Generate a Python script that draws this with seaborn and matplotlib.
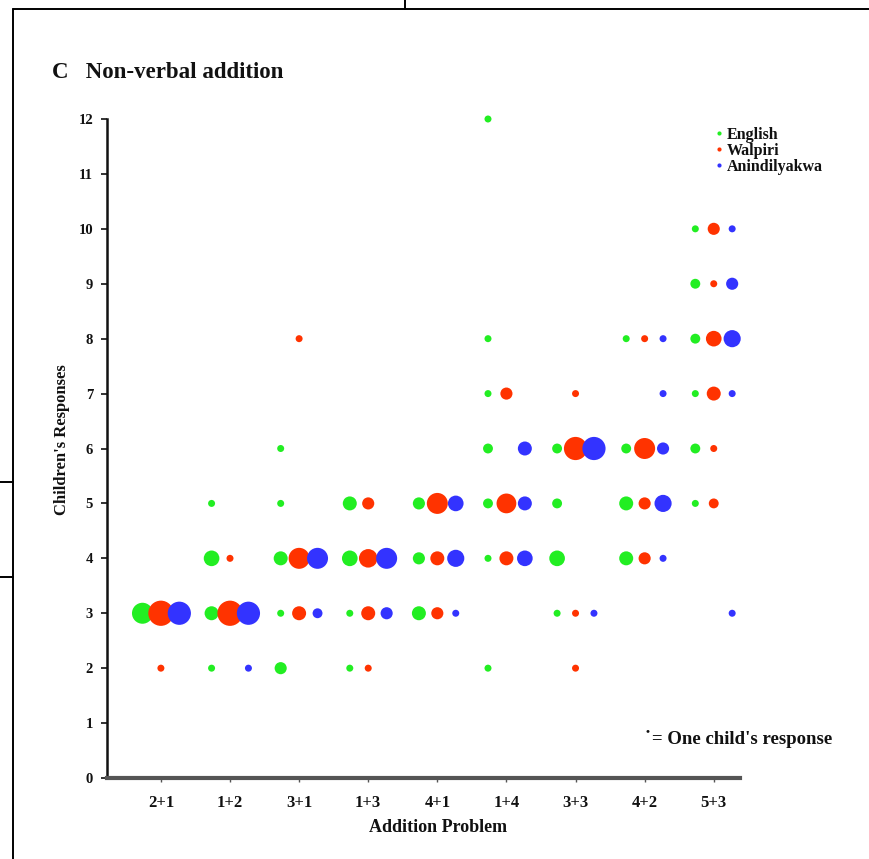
import matplotlib
matplotlib.use("Agg")
import matplotlib.pyplot as plt
from matplotlib.lines import Line2D
import seaborn as sns
import pandas as pd

# ---------------- data ----------------
problems = ["2+1", "1+2", "3+1", "1+3", "4+1", "1+4", "3+3", "4+2", "5+3"]
languages = ["English", "Walpiri", "Anindilyakwa"]
colors = {"English": "#22ee22", "Walpiri": "#ff3300", "Anindilyakwa": "#3333ff"}

# English: problem index, response, number of children
eng_problem  = [0, 1, 1, 1, 1, 2, 2, 2, 2, 2, 3, 3, 3, 3, 4, 4, 4,
                5, 5, 5, 5, 5, 5, 5, 6, 6, 6, 6, 7, 7, 7, 7, 8, 8, 8, 8, 8, 8]
eng_response = [3, 5, 4, 3, 2, 6, 5, 4, 3, 2, 5, 4, 3, 2, 5, 4, 3,
                12, 8, 7, 6, 5, 4, 2, 6, 5, 4, 3, 8, 6, 5, 4, 10, 9, 8, 7, 6, 5]
eng_count    = [9, 1, 5, 4, 1, 1, 1, 4, 1, 3, 4, 5, 1, 1, 3, 3, 4,
                1, 1, 1, 2, 2, 1, 1, 2, 2, 5, 1, 1, 2, 4, 4, 1, 2, 2, 1, 2, 1]

# Walpiri
wal_problem  = [0, 0, 1, 1, 2, 2, 2, 3, 3, 3, 3, 4, 4, 4, 5, 5, 5,
                6, 6, 6, 6, 7, 7, 7, 7, 8, 8, 8, 8, 8, 8]
wal_response = [3, 2, 4, 3, 8, 4, 3, 5, 4, 3, 2, 5, 4, 3, 7, 5, 4,
                7, 6, 3, 2, 8, 6, 5, 4, 10, 9, 8, 7, 6, 5]
wal_count    = [13, 1, 1, 13, 1, 9, 4, 3, 7, 4, 1, 9, 4, 3, 3, 8, 4,
                1, 11, 1, 1, 1, 9, 3, 3, 3, 1, 5, 4, 1, 2]

# Anindilyakwa
ani_problem  = [0, 1, 1, 2, 2, 3, 3, 4, 4, 4, 5, 5, 5, 6, 6,
                7, 7, 7, 7, 7, 8, 8, 8, 8, 8]
ani_response = [3, 3, 2, 4, 3, 4, 3, 5, 4, 3, 6, 5, 4, 6, 3,
                8, 7, 6, 5, 4, 10, 9, 8, 7, 3]
ani_count    = [11, 11, 1, 9, 2, 9, 3, 5, 6, 1, 4, 4, 5, 11, 1,
                1, 1, 3, 6, 1, 1, 3, 6, 1, 1]

y_ticks = list(range(0, 13))

# ---------------- table ----------------
frames = []
for lang, p, r, c in [("English", eng_problem, eng_response, eng_count),
                      ("Walpiri", wal_problem, wal_response, wal_count),
                      ("Anindilyakwa", ani_problem, ani_response, ani_count)]:
    frames.append(pd.DataFrame({"problem": p, "response": r, "count": c,
                                "language": lang}))
df = pd.concat(frames, ignore_index=True)

# dodge like a categorical plot: width 0.8 split over 3 hue levels
dodge_w = 0.8 / len(languages)
offset = {lang: (i - (len(languages) - 1) / 2) * dodge_w
          for i, lang in enumerate(languages)}
df["xpos"] = df["problem"] + df["language"].map(offset)

# ---------------- figure ----------------
sns.set_theme(style="white")
plt.rcParams["font.family"] = ["Liberation Serif", "DejaVu Serif"]
plt.rcParams["font.weight"] = "bold"

fig = plt.figure(figsize=(8.69, 8.59), dpi=100)
ax = fig.add_axes([107 / 869, 81 / 859, 633 / 869, 659 / 859])

sns.scatterplot(data=df, x="xpos", y="response", hue="language",
                hue_order=languages, palette=colors, size="count",
                sizes=(25.4, 330), size_norm=(1, 13), linewidth=0,
                legend=False, ax=ax, clip_on=False, zorder=3)

ax.set_xlim(-0.78, 8.38)
ax.set_ylim(0, 12)
ax.set_xticks(range(len(problems)))
ax.set_xticklabels(problems, fontsize=12, fontweight="bold", color="#111111")
ax.set_yticks(y_ticks)
ax.set_yticklabels([str(v) for v in y_ticks], fontsize=10.5,
                   fontweight="bold", color="#111111")
ax.tick_params(axis="y", direction="out", length=4, width=1.2, pad=6,
               left=True, color="#111111")
ax.tick_params(axis="x", direction="out", length=3, width=1.0, pad=9,
               bottom=True, color="#555555")

for s in ["top", "right"]:
    ax.spines[s].set_visible(False)
ax.spines["left"].set_color("#111111")
ax.spines["left"].set_linewidth(1.8)
ax.spines["bottom"].set_color("#555555")
ax.spines["bottom"].set_linewidth(3)

ax.set_xlabel("Addition Problem", fontsize=13, fontweight="bold",
              color="#111111")
ax.xaxis.set_label_coords(0.523, -0.062)
ax.set_ylabel("Children's Responses", fontsize=12, fontweight="bold",
              color="#111111")
ax.yaxis.set_label_coords(-0.058, 0.513)

# legend
handles = [Line2D([0], [0], marker="o", linestyle="none", markersize=3,
                  markerfacecolor=colors[l], markeredgewidth=0)
           for l in languages]
leg = ax.legend(handles, languages, loc="upper left",
                bbox_to_anchor=(708 / 869, 1 - 119 / 859),
                bbox_transform=fig.transFigure, frameon=False,
                handlelength=0.4, handletextpad=0.3, labelspacing=0.0,
                borderpad=0, prop={"family": "Liberation Serif",
                                   "weight": "bold", "size": 11.5})
for t in leg.get_texts():
    t.set_color("#111111")

# title
fig.text(52 / 869, 1 - 72 / 859, "C   Non-verbal addition", fontsize=16.5,
         fontweight="bold", ha="left", va="center", color="#111111")

# note
fig.text(648 / 869, 1 - 732 / 859, "•", fontsize=8, ha="center",
         va="center", color="#111111")
fig.text(652 / 869, 1 - 739 / 859, "= One child's response", fontsize=13.5,
         fontweight="bold", ha="left", va="center", color="#111111")

# panel frame (from the composite figure)
lk = dict(color="black", linewidth=1.4, transform=fig.transFigure)
fig.add_artist(Line2D([13 / 869, 1], [1 - 9 / 859, 1 - 9 / 859], **lk))
fig.add_artist(Line2D([13 / 869, 13 / 869], [0, 1 - 9 / 859], **lk))
fig.add_artist(Line2D([405 / 869, 405 / 869], [1 - 9 / 859, 1], **lk))
fig.add_artist(Line2D([0, 13 / 869], [1 - 482 / 859, 1 - 482 / 859], **lk))
fig.add_artist(Line2D([0, 13 / 869], [1 - 577 / 859, 1 - 577 / 859], **lk))

fig.savefig("out.png", dpi=100)
